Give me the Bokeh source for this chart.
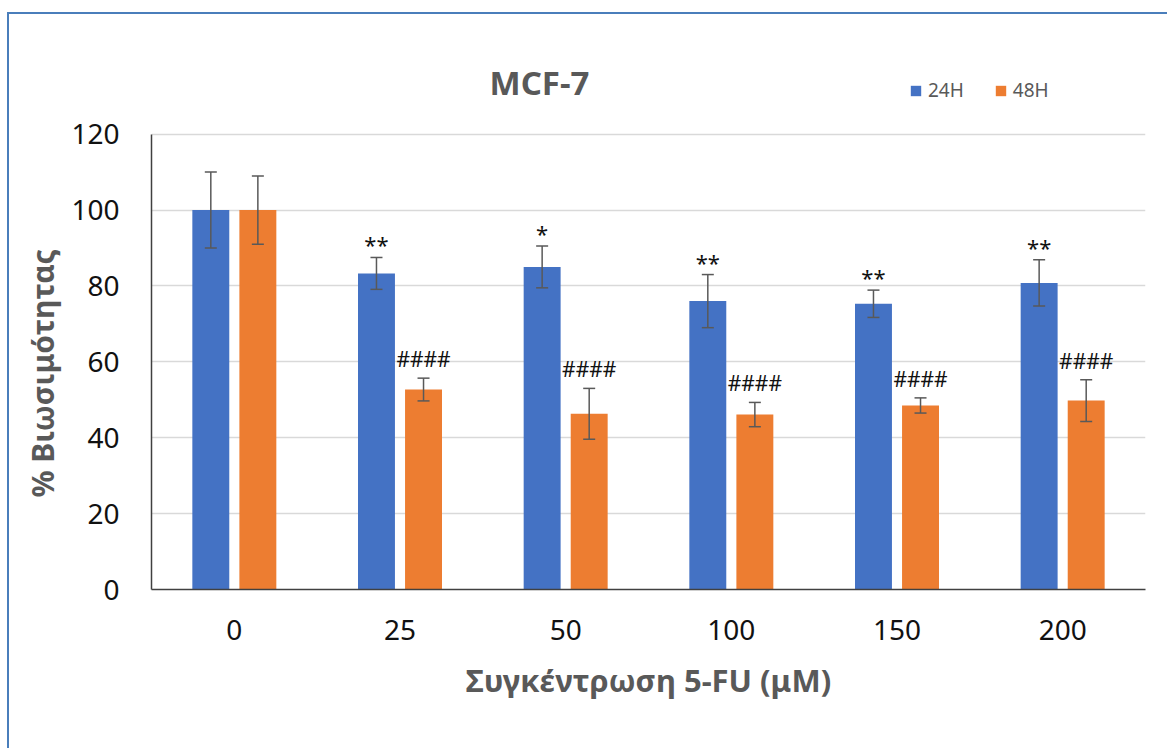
import pandas as pd
from bokeh.plotting import figure
from bokeh.models import (FactorRange, Range1d, ColumnDataSource, Whisker, TeeHead,
                          Legend, LegendItem, FixedTicker, Label, Title)
from bokeh.transform import dodge
from bokeh.core.properties import value
from bokeh.embed import file_html
from bokeh.resources import INLINE

# ---- data ----
doses = ["0", "25", "50", "100", "150", "200"]
v24 = [100.0, 83.3, 85.0, 76.0, 75.3, 80.8]
e24 = [10.0, 4.2, 5.5, 7.0, 3.6, 6.1]
v48 = [100.0, 52.7, 46.3, 46.1, 48.5, 49.8]
e48 = [9.0, 3.0, 6.7, 3.2, 2.0, 5.5]
sig24 = ["", "**", "*", "**", "**", "**"]
sig48 = ["", "####", "####", "####", "####", "####"]
y_ticks = [0, 20, 40, 60, 80, 100, 120]
y_max = 120

df = pd.DataFrame({"dose": doses, "v24": v24, "e24": e24, "v48": v48, "e48": e48,
                   "sig24": sig24, "sig48": sig48})
df["lo24"] = df.v24 - df.e24
df["hi24"] = df.v24 + df.e24
df["lo48"] = df.v48 - df.e48
df["hi48"] = df.v48 + df.e48
src = ColumnDataSource(df)

BLUE = "#4472C4"
ORANGE = "#ED7D31"
GREY = "#595959"
FONT = "Noto Sans"
OFF = 0.142
BW = 0.223

p = figure(width=1160, height=736, x_range=FactorRange(*doses, range_padding=0),
           y_range=Range1d(0, 148.9), output_backend="svg", toolbar_location=None,
           min_border_left=142, min_border_right=24, min_border_top=10,
           min_border_bottom=161)
p.styles = {"border-left": "2.5px solid #4a7ebb", "border-top": "2.5px solid #4a7ebb",
            "margin-top": "12px", "margin-left": "7px"}
p.outline_line_color = None
p.background_fill_color = "white"
p.border_fill_color = "white"

r24 = p.vbar(x=dodge("dose", -OFF, range=p.x_range), top="v24", width=BW, source=src,
             fill_color=BLUE, line_color=None)
r48 = p.vbar(x=dodge("dose", OFF, range=p.x_range), top="v48", width=BW, source=src,
             fill_color=ORANGE, line_color=None)

for off, lo, hi in ((-OFF, "lo24", "hi24"), (OFF, "lo48", "hi48")):
    w = Whisker(base=dodge("dose", off, range=p.x_range), lower=lo, upper=hi, source=src,
                line_color=GREY, line_width=1.5, level="overlay",
                upper_head=TeeHead(size=12, line_color=GREY, line_width=1.5),
                lower_head=TeeHead(size=12, line_color=GREY, line_width=1.5))
    p.add_layout(w)

p.text(x=dodge("dose", -OFF, range=p.x_range), y="hi24", text="sig24", source=src,
       text_align="center", text_baseline="alphabetic", y_offset=-13,
       text_font=value(FONT), text_font_size="22px", text_color="#111111")
p.text(x=dodge("dose", OFF, range=p.x_range), y="hi48", text="sig48", source=src,
       text_align="center", text_baseline="alphabetic", y_offset=-19,
       text_font=value(FONT), text_font_size="21px", text_color="#111111")

# axes
p.yaxis.ticker = FixedTicker(ticks=y_ticks)
p.yaxis.bounds = (0, y_max)
for ax in (p.xaxis[0], p.yaxis[0]):
    ax.axis_line_color = "#404040"
    ax.axis_line_width = 1.5
    ax.major_tick_line_color = None
    ax.minor_tick_line_color = None
    ax.major_tick_out = 0
    ax.major_tick_in = 0
    ax.major_label_text_font = FONT
    ax.major_label_text_font_size = "28px"
    ax.major_label_text_color = "#111111"
    ax.axis_label_text_font = FONT
    ax.axis_label_text_font_size = "31px"
    ax.axis_label_text_font_style = "bold"
    ax.axis_label_text_color = GREY
p.yaxis.major_label_standoff = 32
p.xaxis.major_label_standoff = 30
p.xaxis.axis_label = "Συγκέντρωση 5-FU (μΜ)"
p.xaxis.axis_label_standoff = 16

# value-axis title, placed beside the 0-120 part of the axis
ytitle = Title(text="% Βιωσιμότητας", align="left", offset=92, standoff=10,
               text_font=FONT, text_font_size="30px", text_font_style="bold",
               text_color=GREY, vertical_align="middle")
p.add_layout(ytitle, "left")

p.xgrid.grid_line_color = None
p.ygrid.grid_line_color = "#d9d9d9"
p.ygrid.grid_line_width = 1.5

# chart title (inside the frame area, above the value axis)
title = Label(x=2.342, y=133.7, text="MCF-7", text_align="center",
              text_baseline="middle", text_font=FONT, text_font_size="33px",
              text_font_style="bold", text_color=GREY)
p.add_layout(title)

legend = Legend(items=[LegendItem(label="24H", renderers=[r24]),
                       LegendItem(label="48H", renderers=[r48])],
                orientation="horizontal", location=(758, 486),
                glyph_width=13, glyph_height=13, label_text_font=FONT,
                label_text_font_size="19px", label_text_color=GREY,
                border_line_color=None, background_fill_alpha=0, padding=0,
                spacing=30, label_standoff=6, margin=0)
p.add_layout(legend)

open("out.html", "w").write(file_html(p, INLINE))
